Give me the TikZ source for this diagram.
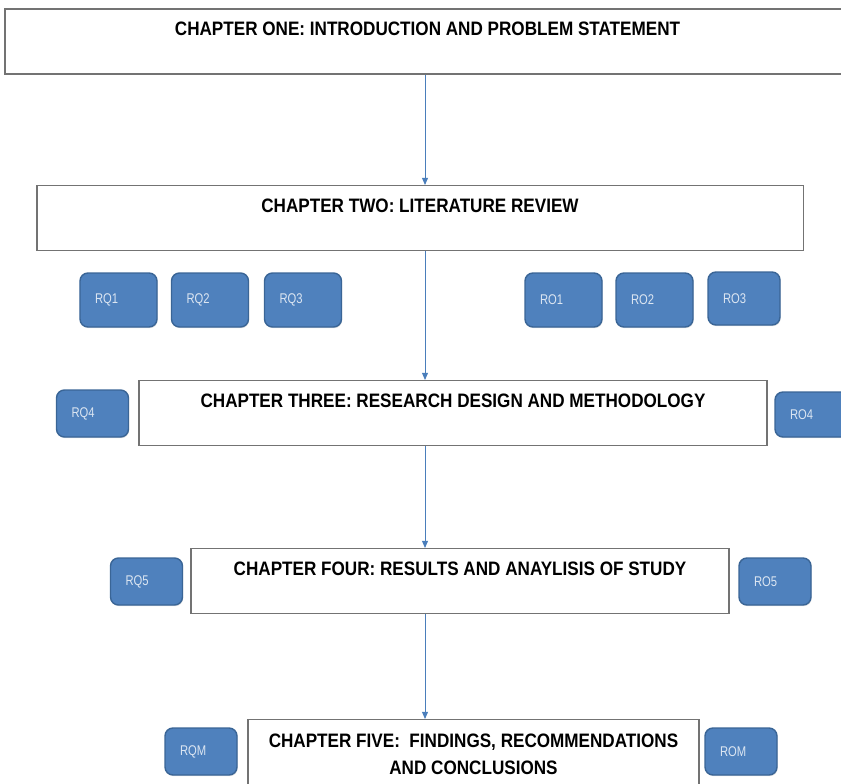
\documentclass[tikz,border=0pt]{standalone}
\usepackage{fontspec}
\usepackage{tikz}
\usetikzlibrary{arrows.meta,shadows}
\newfontfamily\chapfont[FakeStretch=0.88]{Liberation Sans}
\newfontfamily\rqfont[FakeStretch=0.8]{Liberation Sans}
\definecolor{rqblue}{HTML}{4F81BD}
\definecolor{rqedge}{HTML}{3A6596}
\definecolor{rqtext}{HTML}{DCE6F2}
\definecolor{flowblue}{HTML}{4A7EBB}

\begin{document}
\begin{tikzpicture}[x=0.03cm, y=-0.03cm, >=Stealth,
  chapter/.style={draw=black!55, line width=0.9pt, fill=white, anchor=north,
    inner ysep=0pt, text height=0.81cm, text depth=1.14cm,
    font=\chapfont\bfseries\fontsize{16.6}{23}\selectfont, align=center},
  rq/.style={draw=rqedge, line width=1.2pt, fill=rqblue, rounded corners=0.24cm,
    text=rqtext, font=\rqfont\fontsize{12}{14}\selectfont, align=left,
    inner xsep=0.45cm, inner ysep=0pt, text width=1.41cm, minimum height=1.62cm,
    drop shadow={shadow xshift=0.6pt, shadow yshift=-1pt, opacity=0.25}},
  rqsmall/.style={rq, text width=1.26cm, minimum height=1.41cm},
  flow/.style={->, >={Triangle[length=6pt, width=5pt]}, draw=flowblue, line width=0.8pt}]
  \useasboundingbox (0,0) rectangle (841,783);

  % --- chapters ---
  \node[chapter, line width=1.6pt, minimum width=25.35cm] (ch1) at (427.5,8)
    {CHAPTER ONE: INTRODUCTION AND PROBLEM STATEMENT};
  \node[chapter, minimum width=22.98cm] (ch2) at (420,185)
    {CHAPTER TWO: LITERATURE REVIEW};
  \node[chapter, minimum width=18.84cm] (ch3) at (453,380)
    {CHAPTER THREE: RESEARCH DESIGN AND METHODOLOGY};
  \node[chapter, minimum width=16.14cm] (ch4) at (460,548)
    {CHAPTER FOUR: RESULTS AND ANAYLISIS  OF STUDY};
  \node[chapter, minimum width=13.53cm, text height=1.65cm, text depth=1.2cm] (ch5) at (473.5,719)
    {CHAPTER FIVE:\ \ FINDINGS, RECOMMENDATIONS\\ AND CONCLUSIONS};

  % --- research questions and objectives ---
  \node[rq] (rq1) at (118.5,300) {RQ1};
  \node[rq] (rq2) at (210,300) {RQ2};
  \node[rq] (rq3) at (303,300) {RQ3};
  \node[rq] (ro1) at (563.5,300) {RO1};
  \node[rq] (ro2) at (654.5,300) {RO2};
  \node[rqsmall, minimum height=1.59cm] (ro3) at (744,298.5) {RO3};
  \node[rqsmall] (rq4) at (92.5,413.5) {RQ4};
  \node[rqsmall, text width=1.35cm, minimum height=1.35cm] (ro4) at (812.5,414.5) {RO4};
  \node[rqsmall] (rq5) at (146.5,581.5) {RQ5};
  \node[rqsmall] (ro5) at (775,581.5) {RO5};
  \node[rqsmall] (rqm) at (201,751.5) {RQM};
  \node[rqsmall] (rom) at (741,751.5) {ROM};

  % --- flow between chapters ---
  \coordinate (spine) at (425,0);
  \draw[flow] (ch1.south -| spine) -- (ch2.north -| spine);
  \draw[flow] (ch2.south -| spine) -- (ch3.north -| spine);
  \draw[flow] (ch3.south -| spine) -- (ch4.north -| spine);
  \draw[flow] (ch4.south -| spine) -- (ch5.north -| spine);
\end{tikzpicture}
\end{document}
